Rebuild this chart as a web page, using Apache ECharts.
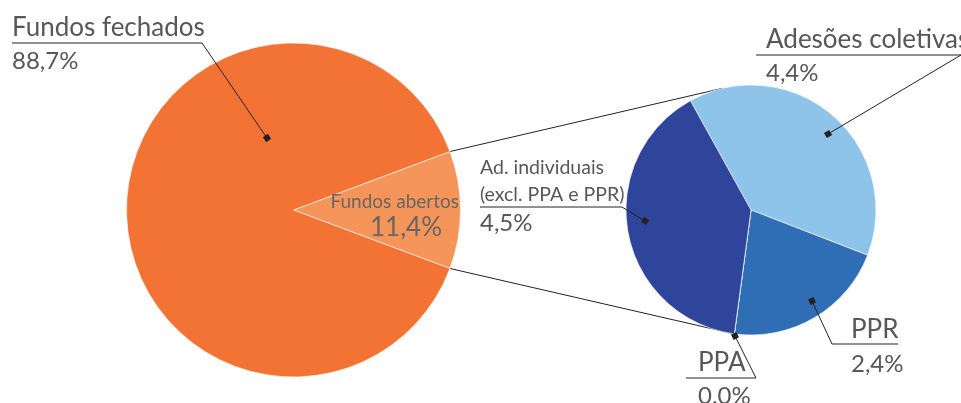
<!DOCTYPE html>
<html>
<head>
<meta charset="utf-8">
<script src="https://cdn.jsdelivr.net/npm/echarts@6/dist/echarts.min.js"></script>
<style>
  html, body { margin: 0; padding: 0; background: #fff; }
  #main { width: 961px; height: 403px; }
</style>
</head>
<body>
<div id="main"></div>
<script>
// left pie: type of fund
const leftNames = ['Fundos abertos', 'Fundos fechados'];
const leftValues = [11.4, 88.7];
const leftShown = ['11,4%', '88,7%'];
// right pie: breakdown of open funds
const rightNames = ['Adesões coletivas', 'PPR', 'PPA', 'Ad. individuais\n(excl. PPA e PPR)'];
const rightValues = [4.4, 2.4, 0.0, 4.5];
const rightShown = ['4,4%', '2,4%', '0.0%', '4,5%'];

const leftColors = ['#F5955A', '#F37335'];
const rightColors = ['#8EC4EA', '#2F6DB5', '#2E5BA8', '#2E459B'];
const textColor = '#575757';
const fontFamily = 'Lato, "Noto Sans", sans-serif';

const leftCenter = [293.5, 210], leftR = 167;
const rightCenter = [751, 210], rightR = 125;
const rightStart = 119;

// where each label sits and how its leader line runs
const labelBox = {
  'Fundos fechados': { x: 12, y: 11.5, line: [[267, 138], [202, 43], [12, 43]] },
  'Fundos abertos': { x: 459, y: 190, align: 'right' },
  'Adesões coletivas': { x: 766, y: 23.5, line: [[828, 134], [961, 55], [756, 55]] },
  'PPR': { x: 851, y: 314, line: [[812, 301], [832, 344], [898, 344]] },
  'PPA': { x: 698, y: 346.5, line: [[735, 336], [756, 378], [686, 378]] },
  'Ad. individuais\n(excl. PPA e PPR)': { x: 480, y: 154, line: [[645, 221], [622, 207], [480, 207]] }
};

const sum = arr => arr.reduce((a, b) => a + b, 0);

function labelText(name, shown) {
  const parts = name.split('\n');
  if (parts.length > 1) {
    return parts.map(p => '{s|' + p + '}').join('\n') + '\n{v2|' + shown + '}';
  }
  return '{n|' + name + '}\n{v|' + shown + '}';
}

function layoutFor(names) {
  return function (p) {
    const b = labelBox[names[p.dataIndex]];
    return { x: b.x, y: b.y, align: b.align || 'left', verticalAlign: 'top' };
  };
}

const rich = {
  n: { fontSize: 26, lineHeight: 32, color: textColor, fontFamily },
  v: { fontSize: 24, lineHeight: 36, color: textColor, fontFamily },
  s: { fontSize: 19.5, lineHeight: 27, color: textColor, fontFamily },
  v2: { fontSize: 24, lineHeight: 31, color: textColor, fontFamily },
  a: { fontSize: 19, lineHeight: 24, color: '#666', fontFamily },
  b: { fontSize: 26, lineHeight: 28, color: '#666', fontFamily, padding: [0, 17, 0, 0] }
};

// connector lines between the two pies
function pt(c, r, deg) {
  const a = deg * Math.PI / 180;
  return [c[0] + r * Math.cos(a), c[1] - r * Math.sin(a)];
}
const half = leftValues[0] / sum(leftValues) * 180;
const topL = pt(leftCenter, leftR, half);
const botL = pt(leftCenter, leftR, -half);
const topR = pt(rightCenter, rightR, 103);
const botR = pt(rightCenter, rightR, rightStart - sum(rightValues.slice(0, 3)) / sum(rightValues) * 360);

const graphics = [
  { type: 'line', z: -1, shape: { x1: topL[0], y1: topL[1], x2: topR[0], y2: topR[1] }, style: { stroke: '#222', lineWidth: 1 } },
  { type: 'line', z: -1, shape: { x1: botL[0], y1: botL[1], x2: botR[0], y2: botR[1] }, style: { stroke: '#222', lineWidth: 1 } }
];
// leader lines with a small square at the slice end
Object.keys(labelBox).forEach(k => {
  const l = labelBox[k].line;
  if (!l) return;
  graphics.push({
    type: 'polyline', z: 100,
    shape: { points: l },
    style: { stroke: '#222', lineWidth: 1, fill: null }
  });
  const ang = Math.atan2(l[1][1] - l[0][1], l[1][0] - l[0][0]);
  graphics.push({
    type: 'rect', z: 101,
    x: l[0][0], y: l[0][1], rotation: -ang,
    shape: { x: -3, y: -3, width: 6, height: 6 },
    style: { fill: '#222' }
  });
});

const chart = echarts.init(document.getElementById('main'));
chart.setOption({
  animation: false,
  graphic: graphics,
  series: [
    {
      type: 'pie',
      center: leftCenter,
      radius: [0, leftR],
      startAngle: half,
      clockwise: true,
      avoidLabelOverlap: false,
      itemStyle: { borderColor: 'rgba(255,255,255,0.6)', borderWidth: 1 },
      label: { show: true, position: 'outside', rich },
      labelLine: { show: false },
      labelLayout: layoutFor(leftNames),
      emphasis: { disabled: true },
      data: leftNames.map((n, i) => {
        const d = {
          name: n, value: leftValues[i],
          itemStyle: { color: leftColors[i] },
          label: { formatter: labelText(n, leftShown[i]) }
        };
        if (n === 'Fundos abertos') {
          d.label = { position: 'inside', formatter: '{a|' + n + '}\n{b|' + leftShown[i] + '}', align: 'right' };
        }
        return d;
      })
    },
    {
      type: 'pie',
      center: rightCenter,
      radius: [0, rightR],
      startAngle: rightStart,
      clockwise: true,
      avoidLabelOverlap: false,
      itemStyle: { borderColor: 'rgba(255,255,255,0.6)', borderWidth: 1 },
      label: { show: true, position: 'outside', rich },
      labelLine: { show: false },
      labelLayout: layoutFor(rightNames),
      emphasis: { disabled: true },
      data: rightNames.map((n, i) => ({
        name: n, value: rightValues[i],
        itemStyle: { color: rightColors[i] },
        label: { formatter: labelText(n, rightShown[i]) }
      }))
    }
  ]
});
</script>
</body>
</html>
